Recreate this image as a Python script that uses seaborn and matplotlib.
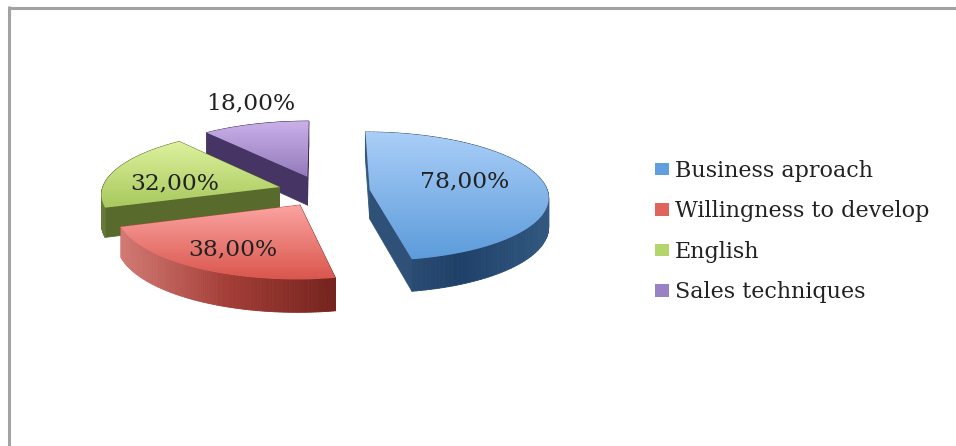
import numpy as np
import matplotlib
matplotlib.use("Agg")
import matplotlib.pyplot as plt
from matplotlib.collections import PolyCollection
from matplotlib.patches import Patch, Polygon
import seaborn as sns

categories = ['Business aproach', 'Willingness to develop', 'English', 'Sales techniques']
values = [78, 38, 32, 18]
value_labels = ['78,00%', '38,00%', '32,00%', '18,00%']

# colours: top of the face, bottom of the face, side ramp left to right
top_colors = [('#abcff8', '#5c9bdb'), ('#fca6a3', '#d9554c'), ('#dff29f', '#a6c85c'), ('#cbb2ea', '#9379ba')]
side_colors = [('#35587e', '#1f4068', '#315880'), ('#d37a74', '#a33d36', '#74231e'),
               ('#66783a', '#586a2c', '#5f7030'), ('#5f5080', '#463564', '#3c2b58')]
legend_colors = ['#5f9fe0', '#e0635c', '#b4d46c', '#9a80c4']

sns.set_theme(style="white")
plt.rcParams['font.family'] = ['DejaVu Serif']

fig = plt.figure(figsize=(9.56, 4.46), dpi=100)
ax = fig.add_axes([0, 0, 1, 1])

# the pie gives the angles and the exploded centres, the tilt is done below
wedges, _ = ax.pie(values, startangle=90, counterclock=False, radius=1,
                   explode=[0.27, 0.24, 0.25, 0.25])
ax.set_xlim(0, 956)
ax.set_ylim(446, 0)
ax.set_axis_off()

tilt = 0.1


def project(u, v):
    # tilted plane with a little perspective, back of the pie is smaller
    w = 1 + tilt * v
    return 322 + 178 * u / w, 191.5 - 64 * v / w


depth = 29
draw_order = [3, 2, 0, 1]

for i in draw_order:
    wd = wedges[i]
    th = np.radians(np.linspace(wd.theta1, wd.theta2, 120))
    u = np.r_[wd.center[0], wd.center[0] + wd.r * np.cos(th)]
    v = np.r_[wd.center[1], wd.center[1] + wd.r * np.sin(th)]
    wd.remove()
    x, y = project(u, v)
    dy = depth / (1 + tilt * v)

    # sides, one quad per boundary segment, front ones last
    xs = np.r_[x, x[0]]
    ys = np.r_[y, y[0]]
    ds = np.r_[dy, dy[0]]
    quads = [[(xs[k], ys[k]), (xs[k + 1], ys[k + 1]),
              (xs[k + 1], ys[k + 1] + ds[k + 1]), (xs[k], ys[k] + ds[k])]
             for k in range(len(xs) - 1)]
    order = np.argsort([q[0][1] + q[1][1] for q in quads])
    ramp = sns.blend_palette(side_colors[i], as_cmap=True)
    mids = (xs[:-1] + xs[1:]) / 2
    shade = ramp((mids - x.min()) / (x.max() - x.min()))
    ax.add_collection(PolyCollection([quads[k] for k in order], facecolors=shade[order],
                                     edgecolors=shade[order], linewidths=0.6, zorder=2 + draw_order.index(i)))

    # top face with a vertical gradient
    grad = sns.blend_palette(top_colors[i], as_cmap=True)
    im = ax.imshow(np.linspace(0, 1, 256).reshape(-1, 1), cmap=grad, aspect='auto', origin='upper',
                   extent=(x.min() - 1, x.max() + 1, y.max() + 1, y.min() - 1),
                   zorder=2.5 + draw_order.index(i))
    im.set_clip_path(Polygon(np.c_[x, y], transform=ax.transData))

ax.set_xlim(0, 956)
ax.set_ylim(446, 0)

label_pos = [(465, 181), (233, 249), (175, 183), (251, 103)]
for txt, (px, py) in zip(value_labels, label_pos):
    ax.text(px, py, txt, ha='center', va='center', fontsize=16.8, color='#222222', zorder=10)

handles = [Patch(facecolor=c, edgecolor='none') for c in legend_colors]
ax.legend(handles, categories, loc='upper left', bbox_to_anchor=(655 / 956, 1 - 160 / 446),
          frameon=False, fontsize=16, handlelength=0.63, handleheight=0.5, handletextpad=0.27,
          labelspacing=0.83, borderpad=0, borderaxespad=0, labelcolor='#222222')

# grey frame of the picture, only top and left
ax.hlines(7.5, 8, 956, color='#a2a2a2', linewidth=2.2, zorder=1)
ax.vlines(9.5, 6, 446, color='#a2a2a2', linewidth=2.2, zorder=1)

fig.savefig('out.png', dpi=100)
